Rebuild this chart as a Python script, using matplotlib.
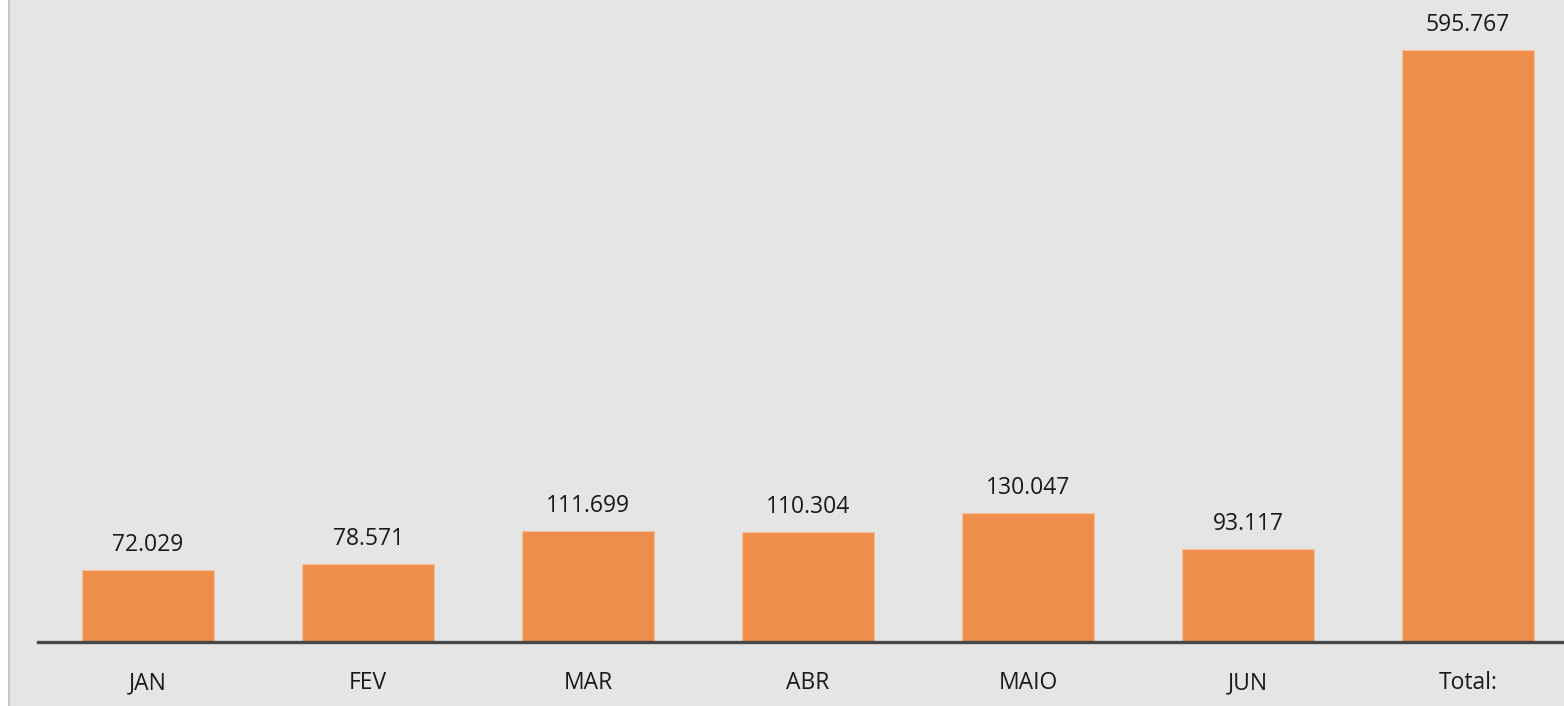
import matplotlib.pyplot as plt
from matplotlib.patches import Rectangle

# data
months = ['JAN', 'FEV', 'MAR', 'ABR', 'MAIO', 'JUN', 'Total:']
values = [72029, 78571, 111699, 110304, 130047, 93117, 595767]
value_labels = ['72.029', '78.571', '111.699', '110.304', '130.047', '93.117', '595.767']

W, H = 1564, 706
fig = plt.figure(figsize=(W / 100, H / 100), dpi=100)
fig.patch.set_facecolor('white')

# gray panel with a thin border on the left (drawn below the axes)
fig.patches.append(Rectangle((8 / W, 0), 1, 1, transform=fig.transFigure,
                             facecolor='#e5e5e5', edgecolor='none', zorder=-2))
fig.patches.append(Rectangle((8 / W, 0), 1.5 / W, 1, transform=fig.transFigure,
                             facecolor='#c4c4c4', edgecolor='none', zorder=-1))

# axes: slots of 220 px starting at x=38, baseline at y=642
ax = fig.add_axes([38 / W, (H - 642) / H, 1540 / W, 642 / H])
ax.set_facecolor('none')

x = range(len(months))
ax.bar(x, values, width=0.6, color='#ed8e4c', edgecolor='#f5c09c', linewidth=0.8, zorder=2)

ax.set_xlim(-0.5, len(months) - 0.5)
ax.set_ylim(0, 646100)

for i, (v, lab) in enumerate(zip(values, value_labels)):
    ax.annotate(lab, (i, v), xytext=(0, 13), textcoords='offset pixels',
                ha='center', va='bottom', fontsize=16.5, family='Open Sans', color='#1a1a1a')

for s in ['top', 'right', 'left']:
    ax.spines[s].set_visible(False)
ax.spines['bottom'].set_color('#474747')
ax.spines['bottom'].set_linewidth(2.4)
ax.spines['bottom'].set_zorder(3)

ax.set_yticks([])
ax.set_xticks(list(x))
ax.set_xticklabels(months, fontsize=16.5, family='Open Sans', color='#1a1a1a')
ax.tick_params(axis='x', length=0, pad=21)

fig.savefig('out.png', dpi=100)
